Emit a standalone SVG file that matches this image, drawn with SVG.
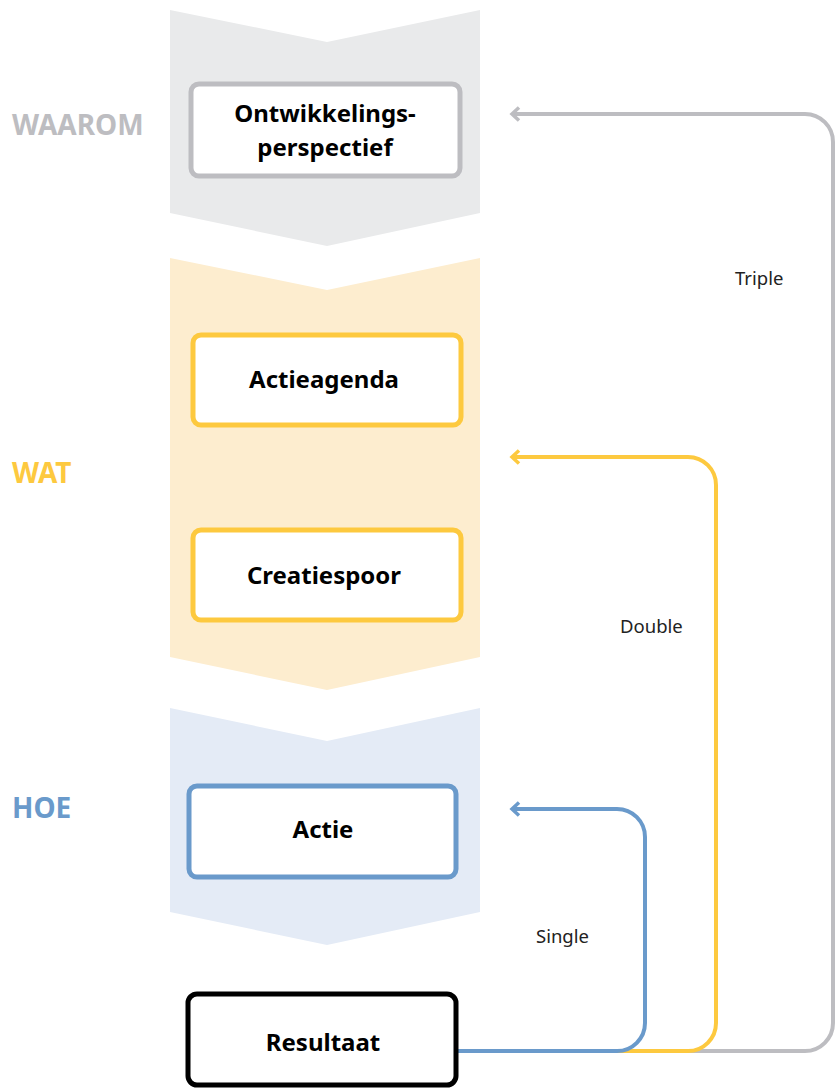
<svg xmlns="http://www.w3.org/2000/svg" width="835" height="1090" viewBox="0 0 835 1090">
<style>
.box{fill:#ffffff;stroke-width:5}
.nt{font-family:"Noto Sans","Open Sans","DejaVu Sans",sans-serif;font-weight:bold;font-size:24px;fill:#000;text-anchor:middle}
.lvl{font-family:"Noto Sans","Open Sans","DejaVu Sans",sans-serif;font-weight:bold;font-size:28px}
.cl{font-family:"Noto Sans","Open Sans","DejaVu Sans",sans-serif;font-size:18.5px;fill:#222}
.conn{fill:none;stroke-width:4}
</style>
<defs>
<marker id="ag" markerWidth="14" markerHeight="16" refX="10" refY="8" orient="auto" markerUnits="userSpaceOnUse"><polyline points="3,1.5 10,8 3,14.5" fill="none" stroke="#bdbdc1" stroke-width="3.5"/></marker>
<marker id="ay" markerWidth="14" markerHeight="16" refX="10" refY="8" orient="auto" markerUnits="userSpaceOnUse"><polyline points="3,1.5 10,8 3,14.5" fill="none" stroke="#fdc93f" stroke-width="3.5"/></marker>
<marker id="ab" markerWidth="14" markerHeight="16" refX="10" refY="8" orient="auto" markerUnits="userSpaceOnUse"><polyline points="3,1.5 10,8 3,14.5" fill="none" stroke="#6a9acb" stroke-width="3.5"/></marker>
</defs>
<g id="bands">
<polygon points="170,10 327,42 480,10 480,213 327,246 170,213" fill="#e9eaeb"/>
<polygon points="170,258 327,290 480,258 480,657 327,690 170,657" fill="#fdedcf"/>
<polygon points="170,708 327,741 480,708 480,912 327,945 170,912" fill="#e4ebf6"/>
</g>
<g id="levels">
<text class="lvl" x="12" y="135" fill="#bdbdc1">WAAROM</text>
<text class="lvl" x="12" y="483" fill="#fdc93f">WAT</text>
<text class="lvl" x="12" y="818" fill="#6a9acb">HOE</text>
</g>
<g id="connectors">
<path class="conn" stroke="#bdbdc1" d="M457,1051 H805 A28,28 0 0 0 833,1023 V142 A28,28 0 0 0 805,114 H512" marker-end="url(#ag)"/>
<path class="conn" stroke="#fdc93f" d="M457,1051 H688 A28,28 0 0 0 716,1023 V485 A28,28 0 0 0 688,457 H512" marker-end="url(#ay)"/>
<path class="conn" stroke="#6a9acb" d="M457,1051 H617 A28,28 0 0 0 645,1023 V837 A28,28 0 0 0 617,809 H512" marker-end="url(#ab)"/>
<text class="cl" x="735" y="285">Triple</text>
<text class="cl" x="620" y="633">Double</text>
<text class="cl" x="536" y="943">Single</text>
</g>
<g id="n-ontwikkelingsperspectief">
<rect class="box" x="191" y="84" width="269" height="92" rx="8" stroke="#bdbdc1"/>
<text class="nt" x="325" y="122">Ontwikkelings-</text>
<text class="nt" x="325" y="156">perspectief</text>
</g>
<g id="n-actieagenda">
<rect class="box" x="193" y="335" width="268" height="90" rx="8" stroke="#fdc93f"/>
<text class="nt" x="324" y="388">Actieagenda</text>
</g>
<g id="n-creatiespoor">
<rect class="box" x="193" y="530" width="268" height="90" rx="8" stroke="#fdc93f"/>
<text class="nt" x="324" y="584">Creatiespoor</text>
</g>
<g id="n-actie">
<rect class="box" x="189" y="786" width="267" height="91" rx="8" stroke="#6a9acb"/>
<text class="nt" x="323" y="838">Actie</text>
</g>
<g id="n-resultaat">
<rect class="box" x="188" y="994" width="268" height="91" rx="9" stroke="#000000"/>
<text class="nt" x="323" y="1051">Resultaat</text>
</g>
</svg>
